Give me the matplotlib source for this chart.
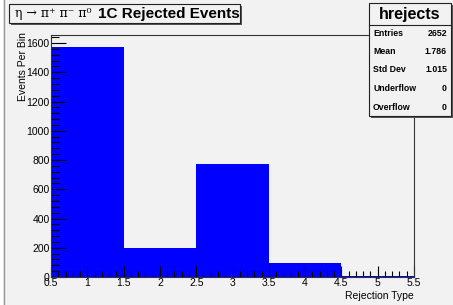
import matplotlib
matplotlib.use('Agg')
import matplotlib.pyplot as plt
from matplotlib.patches import Rectangle
from matplotlib.ticker import MultipleLocator

plt.rcParams['font.family'] = ['Liberation Sans', 'DejaVu Sans']

# bin contents (rejection types 1..5)
edges = [0.5, 1.5, 2.5, 3.5, 4.5, 5.5]
counts = [1573, 200, 776, 98, 5]
xticks = [0.5, 1, 1.5, 2, 2.5, 3, 3.5, 4, 4.5, 5, 5.5]
xticklabels = ['0.5', '1', '1.5', '2', '2.5', '3', '3.5', '4', '4.5', '5', '5.5']
stat_names = ['Entries', 'Mean', 'Std Dev', 'Underflow', 'Overflow']
stat_values = ['2652', '1.786', '1.015', '0', '0']

W, H = 453, 305
bg = '#f2f2f2'

fig = plt.figure(figsize=(W / 100, H / 100), dpi=100, facecolor=bg)
ax = fig.add_axes([51 / W, 1 - 277 / H, (414 - 51) / W, (277 - 35) / H])
ax.set_facecolor(bg)

ax.stairs(counts, edges, fill=True, color='#0000ff', baseline=0)
ax.set_xlim(0.5, 5.5)
ax.set_ylim(0, 1655)

ax.xaxis.set_minor_locator(MultipleLocator(0.1))
ax.yaxis.set_major_locator(MultipleLocator(200))
ax.yaxis.set_minor_locator(MultipleLocator(40))
ax.set_xticks(xticks)
ax.set_xticklabels(xticklabels)
ax.tick_params(which='major', direction='in', labelsize=7.5, width=0.8)
ax.tick_params(axis='y', which='major', length=11, pad=1)
ax.tick_params(axis='y', which='minor', direction='in', length=6, width=0.8)
ax.tick_params(axis='x', which='major', length=8, pad=1)
ax.tick_params(axis='x', which='minor', direction='in', length=4, width=0.8)
ax.tick_params(top=False, right=False, which='both')
for s in ax.spines.values():
    s.set_linewidth(0.8)
    s.set_color('#333333')

ax.set_xlabel('Rejection Type', fontsize=7.5, loc='right', labelpad=2)
ax.set_ylabel('Events Per Bin', fontsize=7.5, loc='top')
ax.yaxis.set_label_coords(-0.062, 1.012)

# left border line of the canvas
fig.add_artist(plt.Line2D([3.5 / W, 3.5 / W], [0, 1], color='#999999', lw=1))
fig.patches.append(Rectangle((0, 0), 3 / W, 1, transform=fig.transFigure,
                             facecolor='white', edgecolor='none', zorder=-1))


def box(x0, y0, x1, y1):
    # ROOT style box with shadow, pixel coords from top left
    fig.add_artist(Rectangle(((x0 + 2) / W, 1 - (y1 + 2) / H), (x1 - x0) / W, (y1 - y0) / H,
                             transform=fig.transFigure, facecolor='#555555', edgecolor='none'))
    fig.add_artist(Rectangle((x0 / W, 1 - y1 / H), (x1 - x0) / W, (y1 - y0) / H,
                             transform=fig.transFigure, facecolor=bg, edgecolor='#222222', lw=0.8))


# title
box(9, 4, 240, 23)
fig.text(15 / W, 1 - 14 / H, 'η → π⁺ π⁻ π⁰', family='DejaVu Serif',
         fontsize=9, ha='left', va='center')
fig.text(98 / W, 1 - 14 / H, '1C Rejected Events', fontsize=11,
         fontweight='bold', ha='left', va='center')

# stats box
box(369, 3, 451, 116)
fig.add_artist(plt.Line2D([369 / W, 451 / W], [1 - 25 / H, 1 - 25 / H],
                          transform=fig.transFigure, color='#222222', lw=0.8))
fig.text(410 / W, 1 - 14 / H, 'hrejects', fontsize=11.5, fontweight='bold',
         ha='center', va='center')
rows_y = [34, 52, 70, 89, 107]
for name, val, y in zip(stat_names, stat_values, rows_y):
    fig.text(373 / W, 1 - y / H, name, fontsize=6.3, fontweight='bold', ha='left', va='center')
    fig.text(447 / W, 1 - y / H, val, fontsize=6.3, fontweight='bold', ha='right', va='center')

plt.savefig('out.png', dpi=100, facecolor=bg)
